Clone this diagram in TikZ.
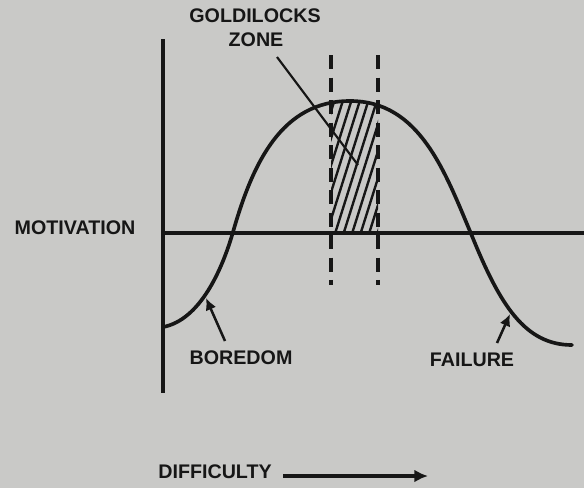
\documentclass[tikz,border=0pt]{standalone}
\usepackage{fontspec}
\setmainfont{Liberation Sans}
\usetikzlibrary{positioning,arrows.meta}
\definecolor{paper}{RGB}{201,201,199}
\definecolor{ink}{RGB}{22,22,22}

\begin{document}
\begin{tikzpicture}[
  x=0.025cm, y=-0.025cm,
  every node/.style={font=\fontsize{14}{16}\selectfont\bfseries, text=ink, inner sep=0pt},
  axis/.style={draw=ink, line width=2.3pt},
  bell/.style={draw=ink, line width=2.6pt, line cap=round},
  zoneline/.style={draw=ink, line width=2.2pt, dash pattern=on 10pt off 6pt},
  hatch/.style={draw=ink, line width=1.7pt},
  pointer/.style={draw=ink, line width=1.8pt, -{Latex[length=3mm,width=2.8mm]}},
]

% ---- paper -----------------------------------------------------------
\fill[paper] (0,0) rectangle (584,488);
\useasboundingbox (0,0) rectangle (584,488);

% ---- axes ------------------------------------------------------------
\coordinate (ytop) at (163,39);
\coordinate (ybot) at (163,393);
\coordinate (origin) at (163,233);
\coordinate (xend) at (584,233);
\draw[axis] (ytop) -- (ybot);
\draw[axis] (origin) -- (xend);

% ---- goldilocks zone: hatching under the curve -----------------------
\begin{scope}
  \clip (331,90) rectangle (378,233);
  \clip (163,233) -- (163,327) .. controls (200,320) and (222,270) .. (233,232)
      .. controls (253,162) and (282,101) .. (350,101)
      .. controls (420,101) and (445,172) .. (472,236)
      .. controls (500,305) and (525,345) .. (572,345) -- (572,233) -- cycle;
  \foreach \i in {0,...,13}
    \draw[hatch] (282+\i*8.5,240) -- ++(46,-146);
\end{scope}

% ---- motivation curve ------------------------------------------------
\draw[bell] (163,327) .. controls (200,320) and (222,270) .. (233,232)
    .. controls (253,162) and (282,101) .. (350,101)
    .. controls (420,101) and (445,172) .. (472,236)
    .. controls (500,305) and (525,345) .. (572,345);

% ---- zone limits -----------------------------------------------------
\coordinate (zlefttop) at (331,55);
\coordinate (zleftbot) at (331,285);
\coordinate (zrighttop) at (378,55);
\coordinate (zrightbot) at (378,285);
\draw[zoneline] (zlefttop) -- (zleftbot);
\draw[zoneline] (zrighttop) -- (zrightbot);

% ---- labels ----------------------------------------------------------
\node (gold) at (255,16) {GOLDILOCKS};
\node (zone) at (256,40) {ZONE};
\node (motiv) at (75,228) {MOTIVATION};
\node (bore) at (241,358) {BOREDOM};
\node (fail) at (472,360) {FAILURE};
\node (diff) at (215,472) {DIFFICULTY};

% ---- pointers --------------------------------------------------------
\coordinate (zonefoot) at (277,57);
\coordinate (zonetip) at (358,165);
\draw[draw=ink, line width=1.5pt] (zonefoot) -- (zonetip);

\coordinate (boretail) at (225,341);
\coordinate (boretip) at (206,298);
\draw[pointer] (boretail) -- (boretip);

\coordinate (failtail) at (497,343);
\coordinate (failtip) at (510,314);
\draw[pointer] (failtail) -- (failtip);

\coordinate (difftip) at (428,476);
\draw[pointer, line width=2.2pt, -{Latex[length=3.4mm,width=3.2mm]}]
  ([xshift=8pt]diff.east |- difftip) -- (difftip);

\end{tikzpicture}
\end{document}
